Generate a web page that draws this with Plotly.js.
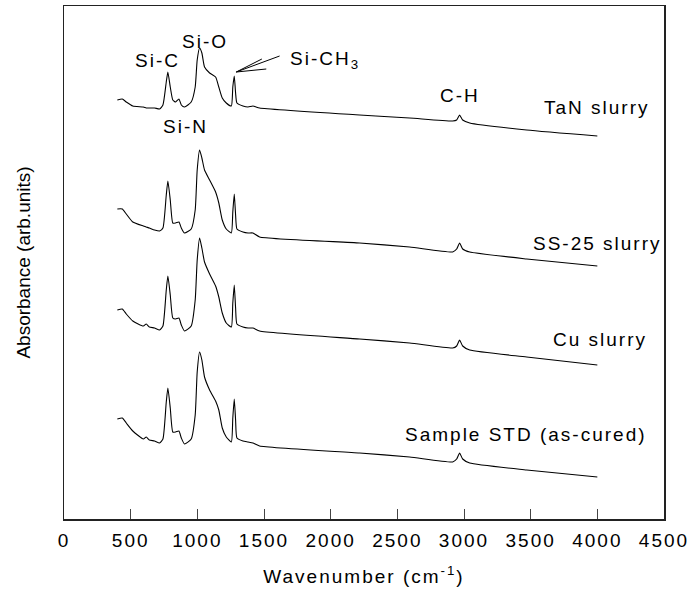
<!DOCTYPE html>
<html>
<head>
<meta charset="utf-8">
<script src="https://cdn.plot.ly/plotly-3.0.1.min.js"></script>
<style>
  html, body { margin: 0; padding: 0; background: #fff; }
  #chart { width: 694px; height: 596px; }
  .main-svg text { letter-spacing: 2px; }
  .main-svg .ytitle { letter-spacing: 0px; }
</style>
</head>
<body>
<div id="chart"></div>
<script>
// Wavenumber grid (cm-1)
const wavenumber = [400, 437, 467, 516, 595, 617, 640, 679, 717, 742,
  767, 779, 797, 816, 837, 862, 880, 904, 954, 984,
  999, 1017, 1034, 1054, 1092, 1137, 1161, 1187, 1217, 1255,
  1266, 1277, 1287, 1297, 1342, 1380, 1417, 1467, 2217, 2592,
  2915, 2945, 2967, 2990, 3043, 3470, 4000];

// Absorbance (arb. units, vertically offset spectra)
const tanSlurry = [4.19, 4.20, 4.17, 4.13, 4.12, 4.11, 4.11, 4.11, 4.10, 4.14,
  4.37, 4.47, 4.32, 4.19, 4.17, 4.20, 4.14, 4.12, 4.17, 4.32,
  4.59, 4.71, 4.66, 4.52, 4.46, 4.42, 4.32, 4.21, 4.16, 4.13,
  4.32, 4.43, 4.26, 4.16, 4.13, 4.12, 4.13, 4.11, 4.04, 4.01,
  3.98, 3.99, 4.04, 3.99, 3.96, 3.89, 3.83];

const ss25Slurry = [3.10, 3.10, 3.05, 2.97, 2.93, 2.92, 2.91, 2.89, 2.88, 2.91,
  3.24, 3.38, 3.19, 2.96, 2.96, 2.97, 2.91, 2.86, 2.90, 3.09,
  3.49, 3.69, 3.61, 3.49, 3.39, 3.27, 3.16, 2.99, 2.90, 2.86,
  3.07, 3.25, 3.04, 2.90, 2.87, 2.86, 2.86, 2.82, 2.76, 2.72,
  2.67, 2.70, 2.76, 2.70, 2.67, 2.60, 2.53];

const cuSlurry = [2.09, 2.10, 2.05, 1.98, 1.93, 1.95, 1.92, 1.91, 1.89, 1.93,
  2.29, 2.43, 2.24, 2.01, 2.00, 2.01, 1.94, 1.88, 1.93, 2.19,
  2.59, 2.81, 2.71, 2.57, 2.45, 2.33, 2.22, 2.06, 1.96, 1.92,
  2.16, 2.34, 2.11, 1.95, 1.92, 1.91, 1.91, 1.88, 1.80, 1.76,
  1.71, 1.73, 1.79, 1.73, 1.69, 1.62, 1.54];

const stdSample = [1.00, 1.01, 0.96, 0.88, 0.80, 0.82, 0.79, 0.78, 0.76, 0.80,
  1.17, 1.31, 1.11, 0.87, 0.87, 0.88, 0.81, 0.75, 0.80, 1.04,
  1.47, 1.67, 1.59, 1.42, 1.29, 1.18, 1.09, 0.91, 0.82, 0.77,
  1.01, 1.20, 0.99, 0.81, 0.78, 0.77, 0.76, 0.73, 0.66, 0.62,
  0.57, 0.60, 0.66, 0.60, 0.56, 0.49, 0.42];

// Tick labels
const xTickVals = [0, 500, 1000, 1500, 2000, 2500, 3000, 3500, 4000, 4500];
const xTickText = ["0", "500", "1000", "1500", "2000", "2500", "3000", "3500", "4000", "4500"];

// Text labels: [text, x, y]
const sampleLabels = [
  ["TaN slurry", 4000, 4.12],
  ["SS-25 slurry", 4003, 2.76],
  ["Cu slurry", 4021, 1.80],
  ["Sample STD (as-cured)", 3466, 0.85]
];
const bandLabels = [
  ["Si-C", 701, 4.59],
  ["Si-O", 1054, 4.78],
  ["Si-N", 912, 3.93],
  ["C-H", 2968, 4.24]
];
const ch3Label = ["Si-CH<sub>3</sub>", 1725, 4.59];
// arrow: tip, tail, two barbs
const arrowTip = [1292, 4.47];
const arrowTail = [1617, 4.63];
const arrowBarbs = [[1484, 4.60], [1517, 4.50]];

const FONT = "Liberation Sans, Arial, Helvetica, sans-serif";
const lineStyle = {color: "#000", width: 1.1, shape: "spline", smoothing: 0.5};

const traces = [tanSlurry, ss25Slurry, cuSlurry, stdSample].map(ys => ({
  x: wavenumber, y: ys, type: "scatter", mode: "lines",
  line: lineStyle, hoverinfo: "skip", showlegend: false
}));

const annotations = [];
sampleLabels.concat(bandLabels).forEach(([t, x, y]) => {
  annotations.push({text: t, x: x, y: y, xref: "x", yref: "y", showarrow: false,
    xanchor: "center", yanchor: "middle", font: {family: FONT, size: 19, color: "#000"}});
});
annotations.push({text: ch3Label[0], x: ch3Label[1], y: ch3Label[2], xref: "x", yref: "y",
  showarrow: false, xanchor: "left", yanchor: "middle",
  font: {family: FONT, size: 19, color: "#000"}});

const shapes = [[arrowTail, arrowTip]].concat(arrowBarbs.map(b => [b, arrowTip])).map(([a, b]) => ({
  type: "line", xref: "x", yref: "y", x0: a[0], y0: a[1], x1: b[0], y1: b[1],
  line: {color: "#000", width: 1}
}));

const layout = {
  width: 694, height: 596,
  margin: {l: 64, r: 30, t: 6, b: 77, pad: 0},
  paper_bgcolor: "#fff", plot_bgcolor: "#fff",
  font: {family: FONT, size: 19, color: "#000"},
  xaxis: {
    range: [0, 4500], tickvals: xTickVals, ticktext: xTickText,
    ticks: "inside", ticklen: 10, tickwidth: 1, tickcolor: "#444",
    ticklabelstandoff: 4,
    showline: true, linecolor: "#222", linewidth: 1.5, mirror: true,
    showgrid: false, zeroline: false,
    tickfont: {family: FONT, size: 19, color: "#000"},
    title: {text: "Wavenumber (cm<sup>-1</sup>)", font: {family: FONT, size: 19, color: "#000"}, standoff: 19}
  },
  yaxis: {
    range: [0, 5.13], showticklabels: false, ticks: "",
    showline: true, linecolor: "#222", linewidth: 1.5, mirror: true,
    showgrid: false, zeroline: false,
    title: {text: "Absorbance (arb.units)", font: {family: FONT, size: 19, color: "#000"}, standoff: 27}
  },
  annotations: annotations,
  shapes: shapes
};

Plotly.newPlot("chart", traces, layout, {staticPlot: true, displayModeBar: false});
</script>
</body>
</html>
